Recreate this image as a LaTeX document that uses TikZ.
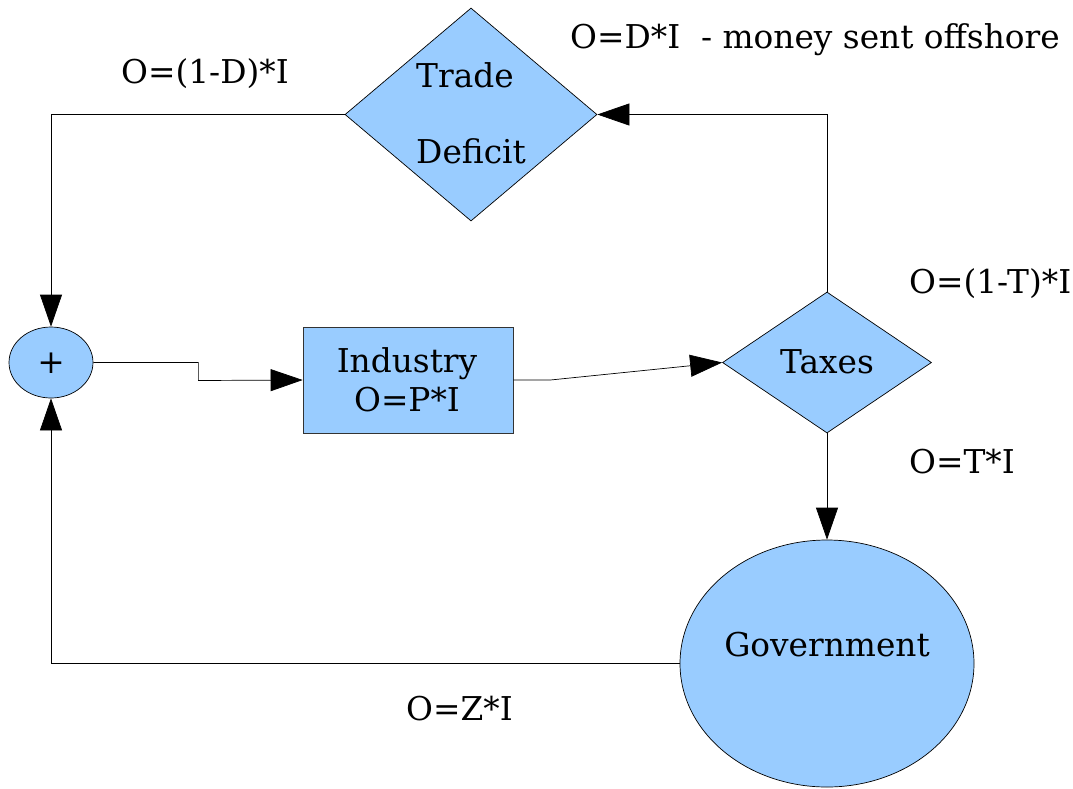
\documentclass[tikz,border=0pt]{standalone}
\usepackage{fontspec}
\setmainfont{DejaVu Serif}
\usetikzlibrary{shapes.geometric,arrows.meta}
\definecolor{shapefill}{HTML}{99CCFF}
\begin{document}
\begin{tikzpicture}[x=1pt,y=-1pt,
  shp/.style={draw=black,fill=shapefill,line width=0.7pt,inner sep=0pt},
  ell/.style={shp,ellipse},
  dia/.style={shp,diamond},
  box/.style={shp,draw=black!80,rectangle},
  txt/.style={inner sep=0pt,font=\fontsize{32.8}{39}\selectfont},
  arr/.style={line width=0.7pt,-{Triangle[length=32pt,width=22pt]}}]
\useasboundingbox (0,0) rectangle (1073,788);
% shapes
\node[ell,minimum width=84pt,minimum height=71pt] (plus) at (51,362.5) {};
\node[box,minimum width=210pt,minimum height=106pt] (ind) at (408,380) {};
\node[dia,minimum width=209pt,minimum height=141pt] (tax) at (827,362.5) {};
\node[dia,minimum width=252pt,minimum height=213pt] (td) at (471,114.5) {};
\node[ell,minimum width=294pt,minimum height=247pt] (gov) at (827,663.5) {};
% shape texts
\node[txt,anchor=base] (plust) at (51,373) {+};
\node[txt,anchor=base] (indt1) at (407,372) {Industry};
\node[txt,anchor=base] (indt2) at (407,411) {O=P*I};
\node[txt,anchor=base] (taxt) at (827,373) {Taxes};
\node[txt,anchor=base west] (tdt1) at (416,87) {Trade};
\node[txt,anchor=base west] (tdt2) at (416,163) {Deficit};
\node[txt,anchor=base] (govt) at (827,656) {Government};
% labels
\node[txt,anchor=base west] (l1) at (121,83) {O=(1-D)*I};
\node[txt,anchor=base west] (l2) at (570,48) {O=D*I\ \ - money sent offshore};
\node[txt,anchor=base west] (l3) at (909,293) {O=(1-T)*I};
\node[txt,anchor=base west] (l4) at (909,473) {O=T*I};
\node[txt,anchor=base west] (l5) at (406,720) {O=Z*I};
% connectors
\draw[arr] (td.west) -| (plus.north);
\draw[arr] (tax.north) |- (td.east);
\draw[arr] (plus.east) -- ++(105,0) -- ++(0,18) -- (ind.west);
\draw[arr] (ind.east) -- ++(37,0) -- (tax.west);
\draw[arr] (tax.south) -- (gov.north);
\draw[arr] (gov.west) -| (plus.south);
\end{tikzpicture}
\end{document}
